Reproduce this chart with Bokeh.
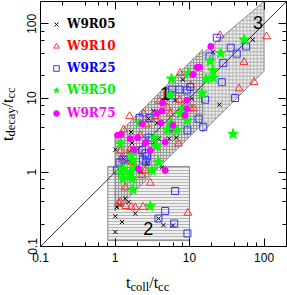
from bokeh.plotting import figure
from bokeh.models import (LogAxis, LogTicker, CustomJSTickFormatter, Legend,
                          LegendItem, Label, Div)
from bokeh.layouts import row, column
from bokeh.embed import file_html
from bokeh.resources import INLINE

# ---------------- data ----------------
names = ["W9R05", "W9R10", "W9R25", "W9R50", "W9R75"]

r05_x = [70.4, 20.5, 25.1, 8.13, 6.41, 10.7, 3.29, 2.82, 3.65, 1.64, 5.33, 6.62, 1.30,
         1.01, 1.60, 1.97, 4.26, 1.69, 1.57, 3.83, 2.68, 2.18, 1.37, 1.06, 1.01, 1.24,
         1.87, 1.52, 1.01, 3.83, 4.47, 5.98, 4.82, 1.15]
r05_y = [61.1, 41.6, 8.15, 17.7, 9.31, 9.82, 6.68, 5.28, 4.61, 3.49, 2.84, 2.93, 1.53,
         2.02, 1.38, 1.16, 1.16, 2.48, 1.88, 2.84, 1.31, 1.01, 0.443, 0.341, 0.256, 0.214,
         0.278, 0.398, 0.157, 0.238, 0.194, 0.192, 9.82, 0.363]

r10_x = [25.7, 108, 53.8, 73.3, 46.1, 10.4, 7.48, 11.3, 7.32, 5.5, 5.06, 3.95, 5.06,
         2.41, 1.57, 2.62, 3.46, 1.30, 5.22, 1.18, 1.57, 1.97, 1.24, 1.77, 2.55, 2.30,
         10.2, 7.1, 1.69, 2.97, 1.18, 1.40, 1.64, 1.87, 2.37, 9.49, 1.37, 1.64, 2.18, 1.12]
r10_y = [69.8, 67.6, 30.5, 16.4, 13.4, 14.8, 21.7, 7.2, 9.31, 6.17, 12.0, 9.12, 7.43,
         6.17, 5.67, 4.39, 5.67, 3.76, 3.67, 1.94, 1.98, 1.94, 1.58, 1.16, 1.06, 0.91,
         7.33, 2.43, 1.38, 0.718, 0.398, 0.349, 0.341, 0.335, 0.341, 0.283, 0.622, 0.875,
         3.15, 0.383]

r25_x = [23.2, 57.3, 43.0, 35.7, 28.4, 18.5, 27.1, 40.8, 16.2, 13.2, 15.3, 7.32, 9.2,
         5.79, 5.79, 9.37, 5.67, 2.91, 2.13, 2.97, 2.30, 2.55, 2.37, 1.30, 1.15, 2.62,
         10.2, 2.82, 1.06, 6.41, 4.71, 3.83, 6.22, 9.37, 2.68]
r25_y = [65.0, 49.6, 39.6, 47.7, 29.6, 36.4, 16.4, 10.0, 9.51, 5.28, 4.07, 13.0, 12.7,
         13.0, 10.9, 3.67, 4.07, 5.38, 5.38, 2.70, 1.98, 1.79, 1.48, 1.48, 1.35, 1.38,
         14.1, 2.93, 1.06, 0.56, 0.301, 0.238, 0.204, 0.150, 1.64]

r50_x = [53.8, 26.2, 18.9, 20.5, 16.7, 20.9, 14.6, 9.67, 5.72, 8.28, 9.2, 38.4, 5.5,
         7.48, 5.62, 5.06, 6.76, 2.13, 3.36, 3.57, 1.18, 1.65, 1.74, 3.83, 1.30, 1.87,
         3.13, 1.57, 1.69, 1.28, 1.21, 1.60, 1.74, 2.97]
r50_y = [61.1, 40.3, 31.5, 23.6, 18.0, 18.8, 11.5, 21.7, 18.2, 7.2, 5.01, 3.28, 11.0,
         6.17, 4.61, 3.76, 3.67, 4.61, 2.90, 2.24, 2.43, 1.69, 1.45, 1.38, 1.12, 1.12,
         1.06, 0.91, 0.822, 0.822, 1.01, 1.01, 0.585, 0.349]

r75_x = [19.3, 13.6, 12.6, 11.1, 9.2, 8.73, 4.34, 3.65, 4.26, 4.13, 5.98, 2.97, 2.55,
         2.30, 4.71, 1.08, 1.20, 2.01, 1.60, 9.2, 4.71, 2.07, 1.77]
r75_y = [49.6, 26.1, 25.9, 20.8, 7.2, 5.85, 8.57, 6.28, 6.68, 4.61, 4.29, 1.98, 2.48,
         4.52, 1.06, 3.15, 3.22, 2.93, 2.84, 9.31, 2.56, 1.12, 2.02]

# shaded regions
reg1_x = [1, 15, 15, 1]
reg1_y = [0.3, 4.5, 45, 3]
reg2_x = [0.8, 10, 10, 0.8]
reg2_y = [0.12, 0.12, 1.2, 1.2]
reg3_x = [15, 100, 100, 15]
reg3_y = [3.5, 23, 200, 40]
diag = [0.1, 200]

region_labels = ["1", "2", "3"]
region_lx = [4.7, 2.79, 83]
region_ly = [11.6, 0.176, 104]

# ---------------- figure ----------------
p = figure(width=267, height=270, x_axis_type="log", y_axis_type="log",
           x_range=(0.1, 200), y_range=(0.1, 200),
           output_backend="svg", toolbar_location=None,
           min_border_left=20, min_border_right=1, min_border_top=1,
           min_border_bottom=24)
p.grid.visible = False
p.outline_line_color = "black"
p.outline_line_width = 1
p.background_fill_color = "white"

fmt = CustomJSTickFormatter(code="return tick < 1 ? tick.toFixed(1) : tick.toFixed(0);")
blank = CustomJSTickFormatter(code="return '';")

for ax in [p.xaxis[0], p.yaxis[0]]:
    ax.ticker = LogTicker()
    ax.formatter = fmt
    ax.major_tick_in = 8
    ax.major_tick_out = 0
    ax.minor_tick_in = 4
    ax.minor_tick_out = 0
    ax.axis_line_color = "black"
    ax.major_label_text_font = "Liberation Sans"
    ax.major_label_text_font_size = "12px"
    ax.major_label_text_color = "black"
p.xaxis[0].major_label_standoff = 6
p.yaxis[0].major_label_standoff = 4
p.yaxis[0].major_label_orientation = "vertical"

for place in ["above", "right"]:
    ax = LogAxis(ticker=LogTicker(), formatter=blank, major_tick_in=8, major_tick_out=0,
                 minor_tick_in=4, minor_tick_out=0, major_label_standoff=0,
                 major_label_text_font_size="1px", axis_line_color="black")
    p.add_layout(ax, place)

# regions
p.patch(reg2_x, reg2_y, fill_color="#f0f0f0", line_color="#888888", line_width=1,
        hatch_pattern="horizontal_line", hatch_color="#b5b5b5", hatch_scale=3,
        hatch_weight=1)
p.patch(reg1_x, reg1_y, fill_color="#e2e2e2", line_color="#888888", line_width=1,
        hatch_pattern="cross", hatch_color="#9a9a9a", hatch_scale=3, hatch_weight=1)
p.patch(reg3_x, reg3_y, fill_color="#f4f4f4", line_color="#888888", line_width=1,
        hatch_pattern="cross", hatch_color="#b0b0b0", hatch_scale=3.5, hatch_weight=1)

p.line(diag, diag, line_color="black", line_width=0.8)

# scatter series
r05 = p.scatter(r05_x, r05_y, marker="x", size=6, line_color="black", line_width=1)
r10 = p.scatter(r10_x, r10_y, marker="triangle", size=8, fill_alpha=0,
                line_color="#ff3030", line_width=1)
r25 = p.scatter(r25_x, r25_y, marker="square", size=7, fill_alpha=0,
                line_color="#3535ff", line_width=1)
r50 = p.scatter(r50_x, r50_y, marker="star", size=11, fill_color="#00ff00",
                line_color="#00ff00", line_width=1)
r75 = p.scatter(r75_x, r75_y, marker="circle", size=6, fill_color="#ff00ff",
                line_color="#ff00ff", line_width=1)

# legends (one per series so each label has its own colour)
rends = [r05, r10, r25, r50, r75]
cols = ["black", "#ff0000", "#0000ff", "#00ee00", "#ff00ff"]
leg_bottom = [215, 193.5, 171.5, 149, 126.5]
for nm, rr, cc, yb in zip(names, rends, cols, leg_bottom):
    lg = Legend(items=[LegendItem(label=nm, renderers=[rr])], location=(9, yb),
                glyph_width=14, glyph_height=14, label_height=14, label_width=10,
                label_standoff=4, padding=0, margin=0, spacing=0,
                label_text_color=cc, label_text_font="DejaVu Serif",
                label_text_font_style="bold", label_text_font_size="12px",
                background_fill_alpha=0, border_line_alpha=0)
    p.add_layout(lg)

for t, lx, ly in zip(region_labels, region_lx, region_ly):
    p.add_layout(Label(x=lx, y=ly, text=t, text_font="Liberation Sans",
                       text_font_size="18px", text_align="center",
                       text_baseline="middle", text_color="black"))

# axis titles (HTML so that subscripts are real text)
sub = "font-size:12.5px; vertical-align:-3px; line-height:1;"
main = ("font-family:'Liberation Serif'; font-size:16px; line-height:16px; "
        "white-space:nowrap; color:black;")
xt = (f'<div style="{main} padding-left:106px; padding-top:5px;">'
      f't<span style="{sub}">coll</span>/t<span style="{sub}">cc</span></div>')
yt = (f'<div style="{main} writing-mode:vertical-rl; transform:rotate(180deg); '
      f'height:141px; width:16px; margin-left:0px;">'
      f't<span style="{sub}">decay</span>/t<span style="{sub}">cc</span></div>')

xdiv = Div(text=xt, width=267, height=25, margin=0)
ydiv = Div(text=yt, width=20, height=270, margin=0)

layout = row(ydiv, column(p, xdiv, spacing=0), spacing=0)

open("out.html", "w").write(file_html(layout, INLINE))
